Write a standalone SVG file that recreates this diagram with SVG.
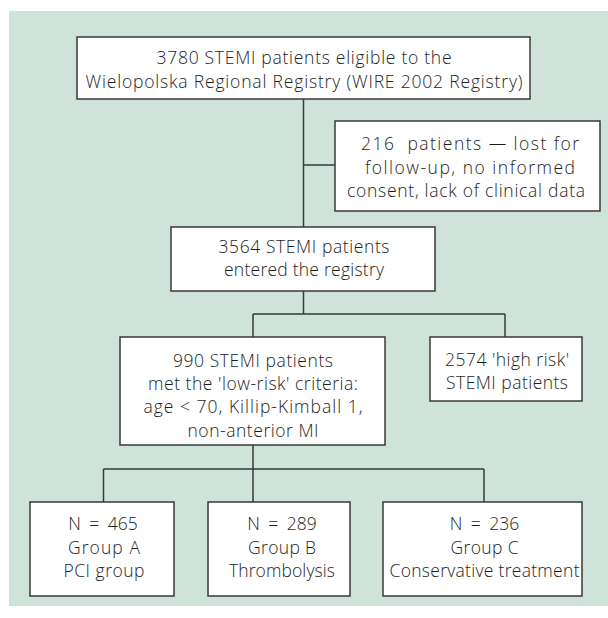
<svg xmlns="http://www.w3.org/2000/svg" width="608" height="618" viewBox="0 0 608 618">
<style>
.bg{fill:#cfe3da}
.box{fill:#ffffff;stroke:#3a3a3a;stroke-width:1.5}
.con{stroke:#3a3a3a;stroke-width:1.5;fill:none}
text{font-family:"Open Sans","Noto Sans","Liberation Sans",sans-serif;font-size:17.5px;font-weight:300;fill:#1e1e1e;text-anchor:middle}
.n{word-spacing:4px}
</style>
<rect class="bg" x="9" y="11" width="599" height="595"/>
<g id="connectors">
<path class="con" d="M303.5 99V227M303.5 165H335"/>
<path class="con" d="M303.5 291V314M253 314H505M253 314V337M505 314V337"/>
<path class="con" d="M253 445V469M103.5 469H484M103.5 469V502M253 469V502M484 469V502"/>
</g>
<g id="n_eligible">
<rect class="box" x="77" y="37" width="453" height="62"/>
<text x="304" y="63.5" textLength="295" lengthAdjust="spacing">3780 STEMI patients eligible to the</text>
<text x="304" y="88" textLength="437" lengthAdjust="spacing">Wielopolska Regional Registry (WIRE 2002 Registry)</text>
</g>
<g id="n_lost">
<rect class="box" x="335" y="121" width="265" height="90"/>
<text x="470" y="150" xml:space="preserve" textLength="218" lengthAdjust="spacing">216  patients — lost for</text>
<text x="470" y="173.5" textLength="210" lengthAdjust="spacing">follow-up, no informed</text>
<text x="466" y="197" textLength="238" lengthAdjust="spacing">consent, lack of clinical data</text>
</g>
<g id="n_entered">
<rect class="box" x="171" y="227" width="264" height="64"/>
<text x="304" y="253" textLength="171" lengthAdjust="spacing">3564 STEMI patients</text>
<text x="304" y="276" textLength="160" lengthAdjust="spacing">entered the registry</text>
</g>
<g id="n_lowrisk">
<rect class="box" x="120" y="337" width="265" height="108"/>
<text x="253" y="366.5" textLength="160" lengthAdjust="spacing">990 STEMI patients</text>
<text x="253" y="390" textLength="210" lengthAdjust="spacing">met the 'low-risk' criteria:</text>
<text x="253" y="413" textLength="219" lengthAdjust="spacing">age &lt; 70, Killip-Kimball 1,</text>
<text x="253" y="436.5" textLength="131" lengthAdjust="spacing">non-anterior MI</text>
</g>
<g id="n_highrisk">
<rect class="box" x="430" y="337" width="152" height="64"/>
<text x="507" y="366" textLength="124" lengthAdjust="spacing">2574 'high risk'</text>
<text x="507" y="389" textLength="122" lengthAdjust="spacing">STEMI patients</text>
</g>
<g id="n_groupA">
<rect class="box" x="30" y="502" width="144" height="94"/>
<text class="n" x="103" y="530">N = 465</text>
<text x="104" y="553.5" textLength="72" lengthAdjust="spacing">Group A</text>
<text x="104" y="577" textLength="81" lengthAdjust="spacing">PCI group</text>
</g>
<g id="n_groupB">
<rect class="box" x="208" y="502" width="142" height="94"/>
<text class="n" x="282" y="530">N = 289</text>
<text x="282" y="553.5" textLength="68" lengthAdjust="spacing">Group B</text>
<text x="282" y="577" textLength="106" lengthAdjust="spacing">Thrombolysis</text>
</g>
<g id="n_groupC">
<rect class="box" x="383" y="502" width="199" height="94"/>
<text class="n" x="484.5" y="530">N = 236</text>
<text x="484.5" y="553.5" textLength="68" lengthAdjust="spacing">Group C</text>
<text x="484.5" y="577" textLength="190" lengthAdjust="spacing">Conservative treatment</text>
</g>
</svg>
